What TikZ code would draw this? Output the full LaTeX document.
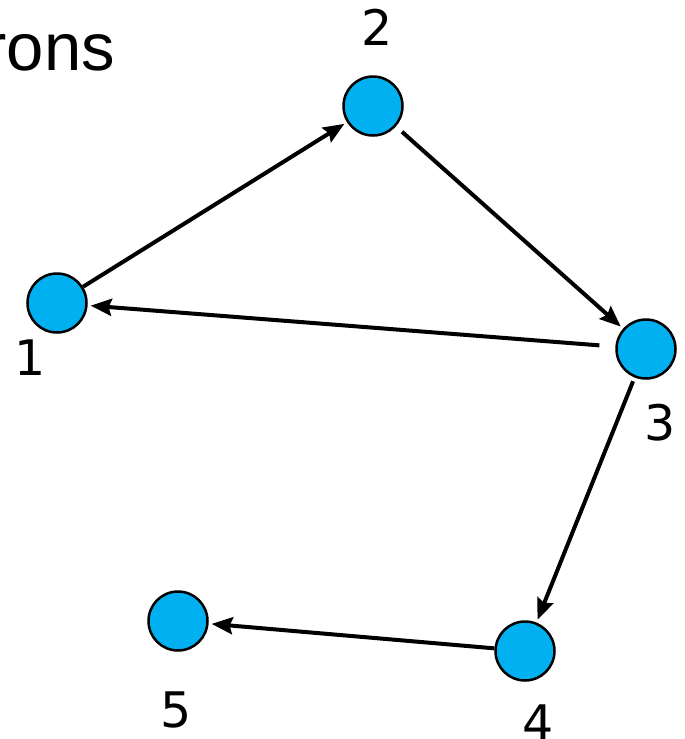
\documentclass[tikz,border=0pt]{standalone}
\usepackage{fontspec}
\setmainfont{DejaVu Sans}
\newfontfamily\arialfont{Liberation Sans}
\usetikzlibrary{arrows.meta, positioning}
\definecolor{neuronblue}{RGB}{0,176,240}

\begin{document}
\begin{tikzpicture}[x=1pt, y=-1pt,
        neuron/.style={circle, draw=black, line width=2.5pt, fill=neuronblue, minimum size=59pt, inner sep=0pt},
        numlabel/.style={anchor=base, inner sep=0pt, font=\fontsize{49}{55}\selectfont},
        link/.style={line width=4pt, -{Stealth[length=21pt, width=17pt, inset=3pt]}, shorten >=3pt}]
            \useasboundingbox (0,0) rectangle (685,739);
            \node[anchor=base east, inner sep=0pt, font=\arialfont\fontsize{67}{75}\selectfont] (title) at (115,70) {rons};
            \node[neuron] (n1) at (57,303) {};
            \node[neuron] (n2) at (373,106) {};
            \node[neuron] (n3) at (646,349) {};
            \node[neuron] (n4) at (525,651) {};
            \node[neuron] (n5) at (178,621) {};
            \node[numlabel] (l1) at (30,375) {1};
            \node[numlabel] (l2) at (377,45) {2};
            \node[numlabel] (l3) at (660,440) {3};
            \node[numlabel] (l4) at (538,740) {4};
            \node[numlabel] (l5) at (176,727) {5};
            \draw[link] (n1) -- (n2);
            \draw[link, shorten <=8pt] (n2) -- (n3);
            \draw[link, shorten <=16pt] (n3) -- (n1);
            \draw[link, shorten <=4pt] (n3) -- (n4);
            \draw[link] (n4) -- (n5);
        \end{tikzpicture}
\end{document}
